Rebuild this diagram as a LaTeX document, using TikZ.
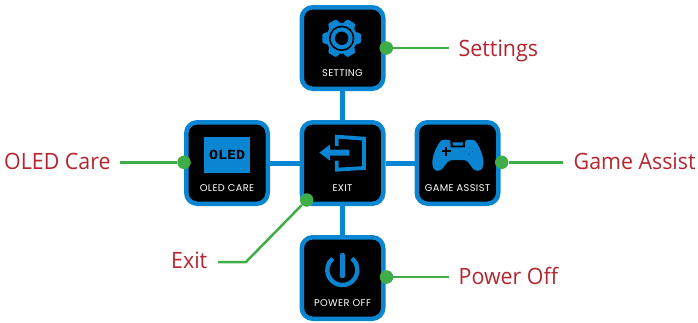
\documentclass[tikz,border=0pt]{standalone}
\usepackage{fontspec}
\setmainfont[FakeStretch=0.95]{Open Sans}
\newfontfamily\btnfont[LetterSpace=4]{Poppins}
\newfontfamily\oledfont{DejaVu Sans Mono}
\definecolor{bblue}{HTML}{0A85D1}
\definecolor{ggreen}{HTML}{3FAE49}
\definecolor{lred}{HTML}{B5252F}
\tikzset{
 btn/.style={draw=bblue,line width=4.5pt,fill=black,rounded corners=11pt,minimum size=81.5pt,inner sep=0pt},
 link/.style={draw=bblue,line width=5pt},
 dot/.style={circle,fill=ggreen,minimum size=13.5pt,inner sep=0pt},
 lead/.style={draw=ggreen,line width=2.5pt},
 lab/.style={text=lred,font=\fontsize{22.5}{24}\selectfont,inner sep=0pt,anchor=base west},
 btncap/.style={text=white,font=\btnfont\fontsize{9.8}{11}\selectfont,inner sep=0pt,anchor=base},
}
\begin{document}
\begin{tikzpicture}[x=1pt,y=-1pt]
\useasboundingbox (0,0) rectangle (698,322);
\node[btn] (set) at (342.5,48) {};
\node[btn] (ole) at (227,163) {};
\node[btn] (exi) at (342.5,163) {};
\node[btn] (gam) at (457.5,163) {};
\node[btn] (pow) at (342.5,278) {};
\draw[link] (set) -- (exi);
\draw[link] (exi) -- (pow);
\draw[link] (ole) -- (exi);
\draw[link] (exi) -- (gam);
% captions
\node[btncap] (c1) at (342.5,76.3) {SETTING};
\node[btncap] (c2) at (227,191.3) {OLED CARE};
\node[btncap] (c3) at (342.5,191.3) {EXIT};
\node[btncap] (c4) at (457.5,191.3) {GAME ASSIST};
\node[btncap] (c5) at (342.5,306.3) {POWER OFF};
% gear
\begin{scope}[shift={(341.7,38.3)},y=1pt]
\fill[bblue] (0,0) circle (15.5);
\foreach \a in {0,60,...,300}{
 \fill[bblue,rotate=\a,rounded corners=1pt] (14,-6.5) -- (19.3,-4.5) -- (19.3,4.5) -- (14,6.5) -- cycle;
}
\fill[black] (0,0) circle (12.7);
\fill[bblue] (0,0) circle (11);
\fill[black] (0,0) circle (6.7);
\end{scope}
% OLED
\node[fill=bblue,minimum width=46.3pt,minimum height=36pt,inner sep=0pt,text=black,font=\oledfont\bfseries\fontsize{12.5}{14}\selectfont] (oi) at (227.2,155) {\scalebox{1.2}[1]{OLED}};
% exit
\begin{scope}[xshift=290pt,yshift=-110pt,x=.3333pt,y=-.3333pt]
\fill[bblue] (88,128) -- (120,104) -- (120,119) -- (178,119) -- (178,137) -- (120,137) -- (120,152) -- cycle;
\draw[bblue,line width=3.8pt] (140,108) -- (140,80) -- (222,86) -- (222,174) -- (140,179) -- (140,152);
\end{scope}
% gamepad
\begin{scope}[xshift=405pt,yshift=-110pt,x=.3333pt,y=-.3333pt]
\fill[bblue] (108,92) .. controls (118,88) and (130,88) .. (136,92) -- (137,112) -- (180,112) -- (181,92) .. controls (187,88) and (200,88) .. (210,92)
 .. controls (224,108) and (236,140) .. (235,160) .. controls (235,178) and (224,186) .. (210,181)
 .. controls (198,176) and (194,152) .. (178,150) -- (140,150) .. controls (122,152) and (118,176) .. (106,181)
 .. controls (92,186) and (82,178) .. (82,160) .. controls (81,140) and (94,108) .. (108,92) -- cycle;
\fill[bblue] (142,97) -- (175,97) -- (172,107) -- (145,107) -- cycle;
\fill[black] (121,111) rectangle (127,137);
\fill[black] (111,121) rectangle (137,127);
\foreach \p in {(192,114),(192,133),(182,124),(202,124)} \fill[black] \p circle (1.1);
\end{scope}
% power
\begin{scope}[shift={(342.3,270)},y=1pt]
\draw[bblue,line width=4.4pt] (50:15) arc[start angle=50,end angle=-230,radius=15];
\end{scope}
\draw[bblue,line width=4.4pt,line cap=round] (342.3,255) -- (342.3,276);
% dots
\node[dot] (d1) at (386.3,48) {};
\node[dot] (d2) at (184,162.3) {};
\node[dot] (d3) at (306.7,200) {};
\node[dot] (d4) at (501.7,162.3) {};
\node[dot] (d5) at (386.5,277) {};
% labels
\node[lab] (l1) at (458.5,56) {Settings};
\node[lab] (l2) at (4,169.3) {OLED Care};
\node[lab] (l3) at (171,268.3) {Exit};
\node[lab] (l4) at (573.5,169.3) {Game Assist};
\node[lab] (l5) at (458.5,284.3) {Power Off};
\coordinate (e1) at (449,48);
\coordinate (e2) at (120,162.3);
\coordinate (e3) at (218,262);
\coordinate (e3b) at (246,262);
\coordinate (e4) at (563,162.3);
\coordinate (e5) at (449,277);
\draw[lead] (d1) -- (e1);
\draw[lead] (d2) -- (e2);
\draw[lead] (d3) -- (e3b) -- (e3);
\draw[lead] (d4) -- (e4);
\draw[lead] (d5) -- (e5);
\end{tikzpicture}
\end{document}
